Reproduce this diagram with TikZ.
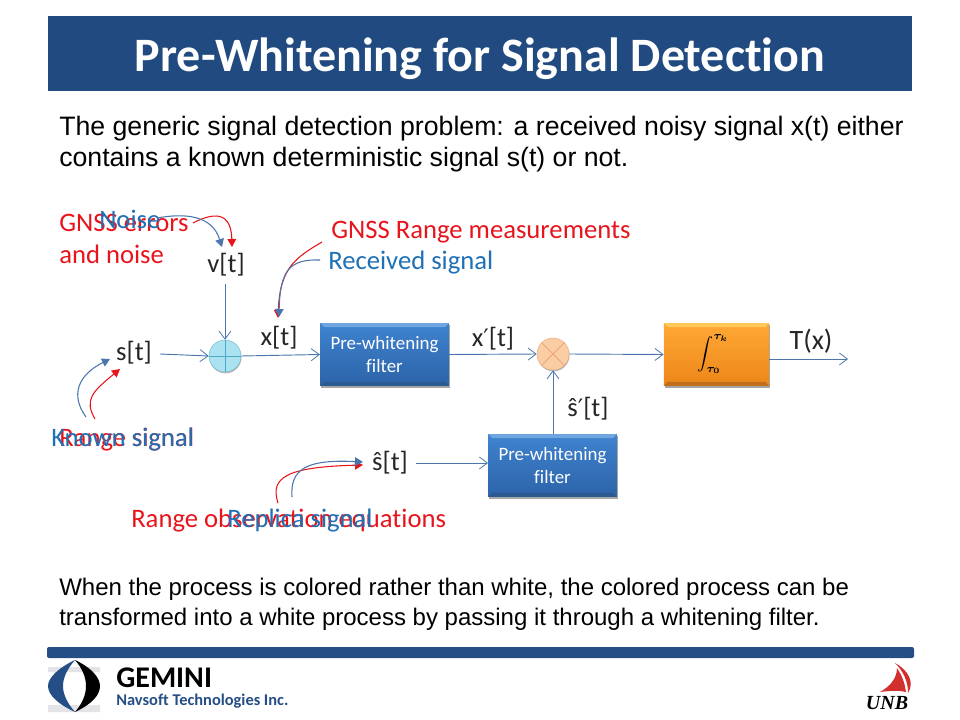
\documentclass[tikz,border=0pt]{standalone}
\usepackage{fontspec}
\usepackage{graphicx}
\setmainfont{Liberation Sans}
\newfontfamily\carl[RawFeature={-liga}]{Carlito}
\newfontfamily\serifU{Liberation Serif}
\newfontfamily\primef{DejaVu Sans}
\newcommand{\prm}{{\primef\fontsize{18}{20}\selectfont ′}}
\usetikzlibrary{arrows.meta,shadows,calc}
\definecolor{titlebar}{HTML}{214B80}
\definecolor{linkblue}{HTML}{4A76AC}
\definecolor{labblue}{HTML}{1F70B5}
\definecolor{labred}{HTML}{E8141C}
\definecolor{navy}{HTML}{244E85}
\definecolor{blueA}{HTML}{3F83CF}
\definecolor{blueB}{HTML}{2C63A8}
\definecolor{blueT}{HTML}{6FA5E0}
\definecolor{blueS}{HTML}{2B5A90}
\definecolor{orgA}{HTML}{FFA836}
\definecolor{orgB}{HTML}{EC8618}
\definecolor{orgT}{HTML}{FFC858}
\definecolor{orgS}{HTML}{C06E1C}
\definecolor{addF}{HTML}{AAE2F0}
\definecolor{addD}{HTML}{78BED2}
\definecolor{addL}{HTML}{4BAAC8}
\definecolor{mixF}{HTML}{FACDA5}
\definecolor{mixD}{HTML}{F0AF82}
\definecolor{mixL}{HTML}{EEA573}
\definecolor{sail}{HTML}{D2302E}
\tikzset{
  x=0.75pt,y=-0.75pt,
  lab/.style={font=\carl\fontsize{20}{24}\selectfont,inner sep=0pt,align=left},
  sig/.style={lab,text=black!85},
  bluelab/.style={lab,text=labblue},
  redlab/.style={lab,text=labred},
  link/.style={draw=linkblue,line width=0.7pt,-{Straight Barb[length=6pt,width=9pt,line width=0.6pt]}},
  bluecall/.style={draw=linkblue,line width=0.8pt,-{Triangle[length=6pt,width=6.5pt]},fill=none},
  redcall/.style={draw=labred,line width=0.8pt,-{Triangle[length=6pt,width=6.5pt]},fill=none},
  blockbase/.style={minimum width=96.5pt,minimum height=47pt,inner sep=0pt,align=center,
    drop shadow={shadow xshift=0.6pt,shadow yshift=-1.4pt,opacity=.35,fill=black}},
  bluebox/.style={blockbase,draw=none,top color=blueA,bottom color=blueB,text=white,
    font=\carl\fontsize{14.2}{17.5}\selectfont,
    path picture={
      \fill[blueT] (path picture bounding box.north west) -- (path picture bounding box.north east) -- ++(-3pt,-3pt) -- ($(path picture bounding box.north west)+(3pt,-3pt)$) -- cycle;
      \fill[blueS] (path picture bounding box.south west) -- (path picture bounding box.south east) -- ++(-3pt,3pt) -- ($(path picture bounding box.south west)+(3pt,3pt)$) -- cycle;
    }},
  orangebox/.style={blockbase,minimum width=79pt,draw=none,top color=orgA,bottom color=orgB,
    path picture={
      \fill[orgT] (path picture bounding box.north west) -- (path picture bounding box.north east) -- ++(-3pt,-3pt) -- ($(path picture bounding box.north west)+(3pt,-3pt)$) -- cycle;
      \fill[orgS] (path picture bounding box.south west) -- (path picture bounding box.south east) -- ++(-3pt,3pt) -- ($(path picture bounding box.south west)+(3pt,3pt)$) -- cycle;
    }},
  junction/.style={circle,minimum size=24pt,inner sep=0pt,drop shadow={shadow xshift=0.4pt,shadow yshift=-1pt,opacity=.3,fill=black}},
}
\begin{document}
\begin{tikzpicture}
\useasboundingbox (0,0) rectangle (960,720);
% title and rule
\fill[titlebar] (48,16) rectangle (912,91);
\node[inner sep=0pt,text=white,font=\carl\bfseries\fontsize{36}{40}\selectfont] (title) at (480,59) {Pre-Whitening for Signal Detection};
\fill[navy,rounded corners=1.5pt] (47,647) rectangle (914,658);
% body text
\node[anchor=west,inner sep=0pt,align=left,font=\fontsize{20}{23.2}\selectfont,text=black] (intro) at (59,144) {The generic signal detection problem: a received noisy signal x(t) either\\contains a known deterministic signal s(t) or not.};
\node[anchor=west,inner sep=0pt,align=left,font=\fontsize{18}{22.5}\selectfont,text=black] (outro) at (59,604) {When the process is colored rather than white, the colored process can be\\transformed into a white process by passing it through a whitening filter.};
% blocks
\node[bluebox] (filterA) at (384.5,354.5) {Pre-whitening\\filter};
\node[bluebox] (filterB) at (552.5,465.5) {Pre-whitening\\filter};
\node[orangebox] (integ) at (716.5,354.5) {\hspace{-5pt}\textcolor{black}{\scalebox{1.2}{\boldmath$\displaystyle\int_{\tau_0}^{\tau_k}$}}};
\node[junction,fill=addF,draw=addD] (adder) at (225,356) {};
\node[junction,fill=mixF,draw=mixD] (mixer) at (553,354) {};
\draw[addL,line width=0.6pt] (adder.north) -- (adder.south) (adder.west) -- (adder.east);
\draw[mixL,line width=0.6pt] (mixer.north west) -- (mixer.south east) (mixer.north east) -- (mixer.south west);
% signal labels
\node[sig] (st) at (134,353) {s[t]};
\node[sig] (vt) at (226,265) {v[t]};
\node[sig] (xt) at (279,338) {x[t]};
\node[sig] (xp) at (493,339) {x\prm[t]};
\node[sig] (sh) at (390,463) {ŝ[t]};
\node[sig] (shp) at (588,409) {ŝ\prm[t]};
\node[sig,font=\carl\fontsize{21}{24}\selectfont] (tx) at (811,341) {T(x)};
\coordinate (stOut) at (160,354);
\coordinate (vtOut) at (225,284);
\coordinate (shOut) at (416,463);
\coordinate (fbIn) at (488,463);
\coordinate (fbOut) at (553,434);
\coordinate (outS) at (769,359);
\coordinate (out) at (848,359);
% links
\draw[link] (stOut) -- (adder.west);
\draw[link] (vtOut) -- (adder.north);
\draw[link] (adder.east) -- (filterA.west);
\draw[link] (filterA.east) -- (mixer.west);
\draw[link] (mixer.east) -- (integ.west);
\draw[link] (outS) -- (out);
\draw[link] (shOut) -- (fbIn);
\draw[link] (fbOut) -- (mixer.south);
% red labels
\node[redlab,anchor=west] (gnssErr) at (59,239) {GNSS errors\\and noise};
\node[redlab,anchor=west] (gnssRange) at (331,232) {GNSS Range measurements};
\node[redlab,anchor=west] (rangeSig) at (59,440) {Range signal};
\node[redlab,anchor=west] (rangeObs) at (131,521) {Range observation equations};
% blue labels
\node[bluelab,anchor=west] (noise) at (99,219) {Noise};
\node[bluelab,anchor=west] (recv) at (328,263) {Received signal};
\node[bluelab,anchor=west] (known) at (51,440) {Known signal};
\node[bluelab,anchor=west] (replica) at (227,521) {Replica signal};
% callout anchors
\coordinate (vB) at (222,247); \coordinate (vR) at (232,247);
\coordinate (nS) at (157,218); \coordinate (eS) at (193,223);
\coordinate (xB) at (279,317); \coordinate (xR) at (278,318);
\coordinate (rS) at (320,260); \coordinate (gS) at (322,242);
\coordinate (sB) at (110,359); \coordinate (sR) at (120,369);
\coordinate (kS) at (86,417); \coordinate (aS) at (95,419);
\coordinate (hB) at (363,462); \coordinate (hR) at (363,465);
\coordinate (pS) at (292,497); \coordinate (oS) at (278,503);
% callouts
\draw[redcall] (eS) .. controls (205,217) and (231,205) .. (vR);
\draw[bluecall] (nS) .. controls (185,213) and (212,215) .. (vB);
\draw[redcall] (gS) .. controls (295,258) and (280,268) .. (xR);
\draw[bluecall] (rS) .. controls (290,259) and (280,270) .. (xB);
\draw[redcall] (aS) .. controls (84,400) and (92,392) .. (sR);
\draw[bluecall] (kS) .. controls (70,395) and (78,375) .. (sB);
\draw[redcall] (oS) .. controls (270,478) and (285,467) .. (hR);
\draw[bluecall] (pS) .. controls (290,470) and (305,459) .. (hB);
% Gemini logo
\fill[blue!10!gray!20] (48,667) rectangle (100,672) (48,705) rectangle (100,712);
\fill[navy] (75,660) .. controls (58,668) and (48,678) .. (48,686) .. controls (48,695) and (58,704) .. (75,712) .. controls (68,704) and (63,695) .. (63,686) .. controls (63,677) and (68,668) .. (75,660) -- cycle;
\fill[black] (75,660) .. controls (92,668) and (100,678) .. (100,686) .. controls (100,695) and (92,704) .. (75,712) .. controls (82,704) and (86,695) .. (86,686) .. controls (86,677) and (82,668) .. (75,660) -- cycle;
\node[anchor=west,inner sep=0pt,text=black,font=\carl\bfseries\fontsize{22.5}{24}\selectfont] (gemini) at (116,678) {GEMINI};
\node[anchor=west,inner sep=0pt,text=navy,font=\carl\bfseries\fontsize{12.3}{15}\selectfont] (navsoft) at (116,701) {Navsoft Technologies Inc.};
% UNB logo
\fill[sail] (895,663) .. controls (908,670) and (915,682) .. (908,693) .. controls (908,682) and (904,672) .. (895,663) -- cycle;
\fill[sail] (897,668) .. controls (903,677) and (905,685) .. (906,692) .. controls (898,690) and (888,691) .. (880,692) .. controls (889,687) and (897,679) .. (897,668) -- cycle;
\node[inner sep=0pt,text=black,font=\serifU\bfseries\itshape\fontsize{15}{16}\selectfont] (unb) at (887,703) {UNB};
\end{tikzpicture}
\end{document}
